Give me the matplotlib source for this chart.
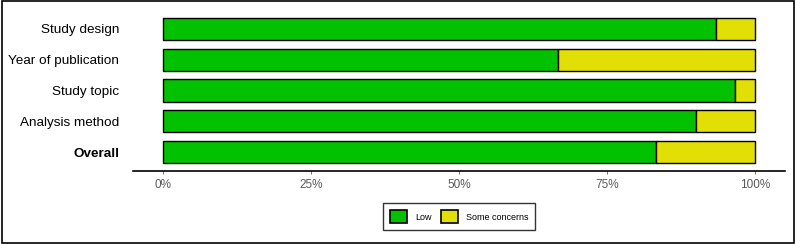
import matplotlib.pyplot as plt
from matplotlib.patches import Rectangle, Patch
from matplotlib.ticker import PercentFormatter

plt.rcParams["font.family"] = ["Liberation Sans", "DejaVu Sans"]

domains = ["Study design", "Year of publication", "Study topic", "Analysis method", "Overall"]
low = [93.33, 66.67, 96.67, 90.0, 83.33]
some_concerns = [6.67, 33.33, 3.33, 10.0, 16.67]
colors = {"Low": "#02C100", "Some concerns": "#E2DF07"}

fig = plt.figure(figsize=(7.96, 2.44), dpi=100)
ax = fig.add_axes([0.167, 0.301, 0.819, 0.656])

ypos = list(range(len(domains)))
ax.barh(ypos, low, height=0.72, color=colors["Low"], edgecolor="black", linewidth=1)
ax.barh(ypos, some_concerns, left=low, height=0.72, color=colors["Some concerns"],
        edgecolor="black", linewidth=1)

ax.set_xlim(-5, 105)
ax.set_ylim(len(domains) - 0.4, -0.6)
ax.set_yticks(ypos)
ax.set_yticklabels(domains, fontsize=9.7)
ax.get_yticklabels()[-1].set_fontweight("bold")
ax.tick_params(axis="y", length=0, pad=10)
ax.set_xticks([0, 25, 50, 75, 100])
ax.xaxis.set_major_formatter(PercentFormatter(decimals=0))
ax.tick_params(axis="x", labelsize=8.5, colors="#5A5A5A", length=2.5, width=0.6)
for s in ["top", "right", "left"]:
    ax.spines[s].set_visible(False)
ax.spines["bottom"].set_linewidth(1.2)

handles = [Patch(facecolor=colors[k], edgecolor="black", linewidth=1.2, label=k) for k in colors]
fig.legend(handles=handles, loc="center", bbox_to_anchor=(0.577, 0.112), ncol=2,
           fontsize=6.5, frameon=True, fancybox=False, edgecolor="black",
           handlelength=1.9, handleheight=1.9, columnspacing=1.0, handletextpad=0.9,
           borderpad=0.75)

fig.add_artist(Rectangle((0.002, 0.004), 0.996, 0.992, transform=fig.transFigure,
                         fill=False, edgecolor="black", linewidth=1.2))

fig.savefig("out.png", dpi=100)
